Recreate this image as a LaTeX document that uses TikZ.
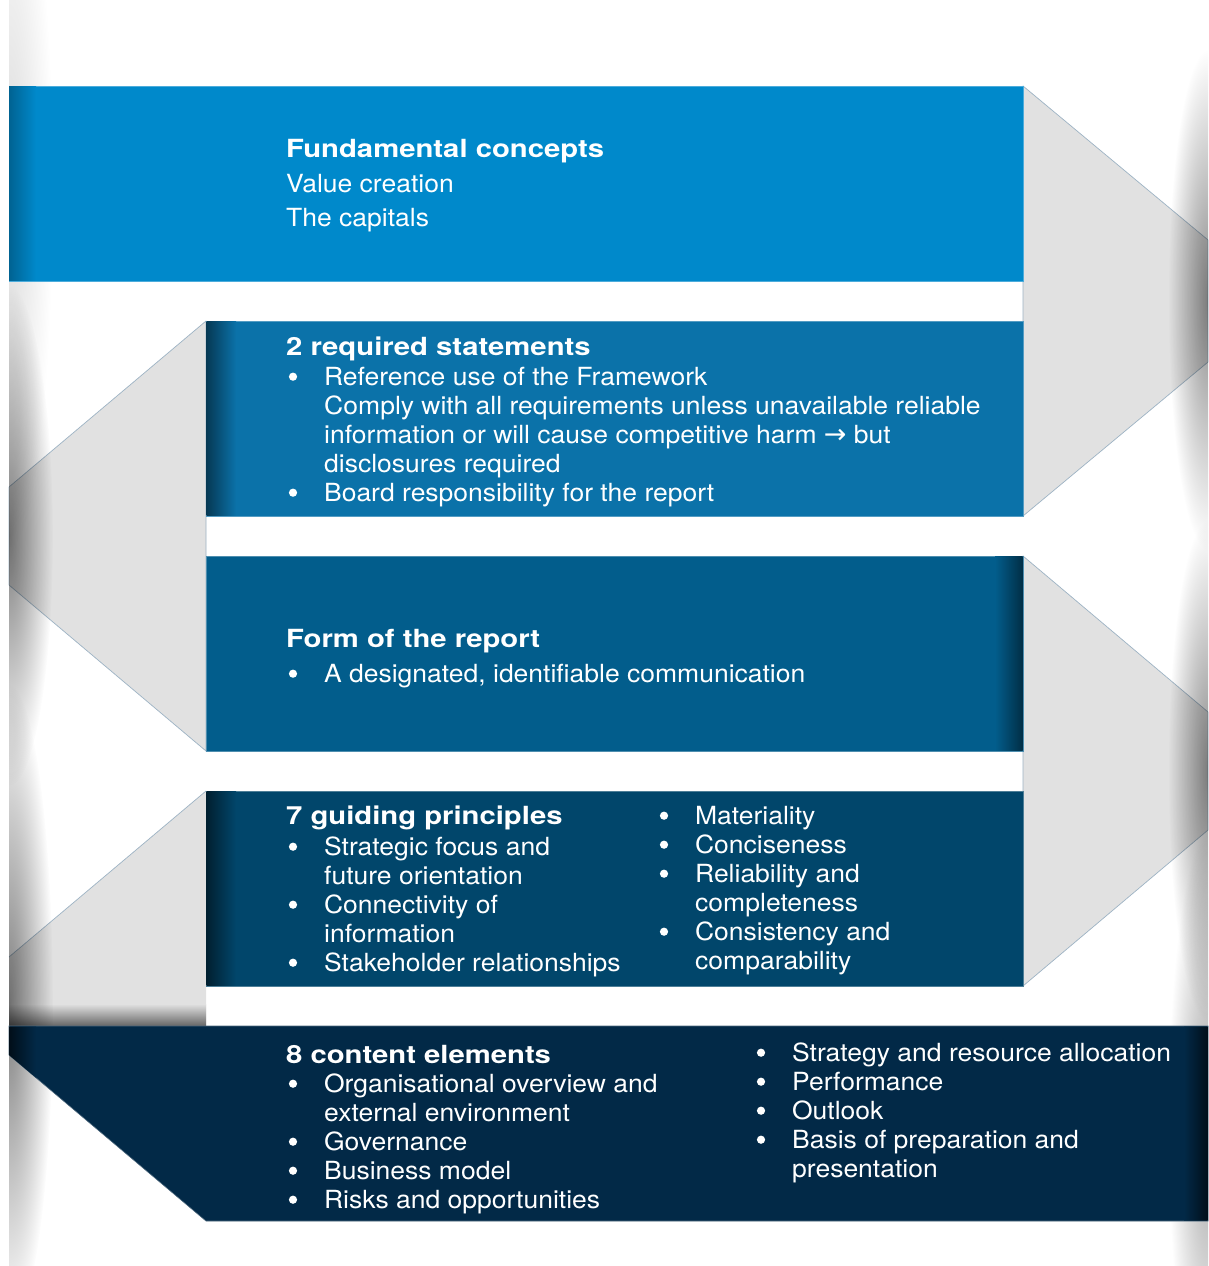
\documentclass[tikz,border=0pt]{standalone}
\usepackage{fontspec}
\setmainfont{TeX Gyre Heros}[FakeStretch=1.06]
\newfontfamily\ttlfont{TeX Gyre Heros}[FakeStretch=1.17]
\newfontfamily\arrfont{DejaVu Sans}
\usetikzlibrary{fadings}
\definecolor{bandA}{HTML}{0089CB}
\definecolor{bandB}{HTML}{0B72A9}
\definecolor{bandC}{HTML}{025D8C}
\definecolor{bandD}{HTML}{01466B}
\definecolor{bandE}{HTML}{022947}
\definecolor{foldgray}{HTML}{E1E1E1}
\definecolor{foldedge}{HTML}{9DB3C4}
\tikzfading[name=lensfade, inner color=transparent!0, outer color=transparent!100]
\newcommand\bulx{\hspace*{35.5pt}}
\newcommand\arr{{\arrfont\fontsize{27}{27}\selectfont →}}
\begin{document}
\begin{tikzpicture}[x=1pt,y=-1pt,
  body/.style={anchor=base west, inner sep=0pt, text=white, font=\fontsize{25}{30}\selectfont},
  ttl/.style={anchor=base west, inner sep=0pt, text=white, font=\ttlfont\bfseries\fontsize{25}{30}\selectfont},
  fold/.style={fill=foldgray, draw=foldedge, line width=0.7pt, line join=round},
  lens/.style={fill=black, path fading=lensfade}]
\useasboundingbox[fill=white] (0,0) rectangle (1208,1266);

% grey folds
\path[fold] (1023,86) -- (1208,240) -- (1208,362) -- (1023,516) -- cycle;
\path[fold] (206,321) -- (9,487) -- (9,585) -- (206,751) -- cycle;
\path[fold] (1023,556) -- (1208,712) -- (1208,830) -- (1023,986) -- cycle;
\path[fill=foldgray] (206,791) -- (9,957) -- (9,1026) -- (206,1026) -- cycle;
\draw[foldedge, line width=0.7pt] (206,791) -- (9,957);
\shade[top color=foldgray, bottom color=black!60] (9,1004) rectangle (206,1026);

% page shadows
\begin{scope}
\clip (9,0) rectangle (1208,1266);
\path[lens, opacity=0.14] (9,190) ellipse [x radius=44, y radius=360];
\path[lens, opacity=0.5] (9,536) ellipse [x radius=44, y radius=250];
\path[lens, opacity=0.5] (9,1005) ellipse [x radius=44, y radius=320];
\path[lens, opacity=0.45] (1208,300) ellipse [x radius=40, y radius=250];
\path[lens, opacity=0.45] (1208,771) ellipse [x radius=40, y radius=250];
\path[lens, opacity=0.35] (1208,1125) ellipse [x radius=40, y radius=290];
\end{scope}

% bands
\path[fill=bandA, draw=bandA!70!white, line width=0.6pt] (9,86) rectangle (1023,281);
\path[fill=bandB, draw=bandB!70!white, line width=0.6pt] (206,321) rectangle (1023,516);
\path[fill=bandC, draw=bandC!70!white, line width=0.6pt] (206,556) rectangle (1023,751);
\path[fill=bandD, draw=bandD!70!white, line width=0.6pt] (206,791) rectangle (1023,986);
\path[fill=bandE, draw=bandE!70!white, line width=0.6pt] (9,1026) -- (1208,1026) -- (1208,1221) -- (206,1221) -- (9,1055) -- cycle;

% inner edge shading
\shade[left color=bandA!72!black, right color=bandA] (9,86.5) rectangle (36,280.5);
\shade[left color=bandB!50!black, right color=bandB] (206.5,321.5) rectangle (236,515.5);
\shade[left color=bandC, right color=bandC!50!black] (995,556.5) rectangle (1022.5,750.5);
\shade[left color=bandD!45!black, right color=bandD] (206.5,791.5) rectangle (236,985.5);
\begin{scope}
\clip (9,1026.5) -- (1207.5,1026.5) -- (1207.5,1220.5) -- (206,1220.5) -- (9,1055) -- cycle;
\shade[left color=bandE!35!black, right color=bandE] (9,1026) rectangle (36,1221);
\shade[left color=bandE, right color=bandE!35!black] (1184,1026) rectangle (1208,1221);
\end{scope}

% band 1
\node[ttl]  (t1)  at (286,157) {Fundamental concepts};
\node[body] (t1a) at (286,192) {Value creation};
\node[body] (t1b) at (286,226) {The capitals};

% band 2
\node[ttl]  (t2)  at (286,355) {2 required statements};
\node[body] (t2a) at (288.4,385) {\bulx Reference use of the Framework};
\node[body] (t2b) at (324,414) {Comply with all requirements unless unavailable reliable};
\node[body] (t2c) at (324,443) {information or will cause competitive harm \arr{} but};
\node[body] (t2d) at (324,472) {disclosures required};
\node[body] (t2e) at (288.4,501) {\bulx Board responsibility for the report};

% band 3
\node[ttl]  (t3)  at (286,647) {Form of the report};
\node[body] (t3a) at (288.4,682) {\bulx A designated, identifiable communication};

% band 4
\node[ttl]  (t4)  at (286,824) {7 guiding principles};
\node[body] (t4a) at (288.4,855) {\bulx Strategic focus and};
\node[body] (t4b) at (324,884) {future orientation};
\node[body] (t4c) at (288.4,913) {\bulx Connectivity of};
\node[body] (t4d) at (324,942) {information};
\node[body] (t4e) at (288.4,971) {\bulx Stakeholder relationships};
\node[body] (t4f) at (659.4,824) {\bulx Materiality};
\node[body] (t4g) at (659.4,853) {\bulx Conciseness};
\node[body] (t4h) at (659.4,882) {\bulx Reliability and};
\node[body] (t4i) at (695,911) {completeness};
\node[body] (t4j) at (659.4,940) {\bulx Consistency and};
\node[body] (t4k) at (695,969) {comparability};

% band 5
\node[ttl]  (t5)  at (286,1063) {8 content elements};
\node[body] (t5a) at (288.4,1092) {\bulx Organisational overview and};
\node[body] (t5b) at (324,1121) {external environment};
\node[body] (t5c) at (288.4,1150) {\bulx Governance};
\node[body] (t5d) at (288.4,1179) {\bulx Business model};
\node[body] (t5e) at (288.4,1208) {\bulx Risks and opportunities};
\node[body] (t5f) at (756.4,1061) {\bulx Strategy and resource allocation};
\node[body] (t5g) at (756.4,1090) {\bulx Performance};
\node[body] (t5h) at (756.4,1119) {\bulx Outlook};
\node[body] (t5i) at (756.4,1148) {\bulx Basis of preparation and};
\node[body] (t5j) at (792,1177) {presentation};

% bullets
\foreach \n in {t2a,t2e,t3a,t4a,t4c,t4e,t4f,t4g,t4h,t4j,t5a,t5c,t5d,t5e,t5f,t5g,t5h,t5i}
  \fill[white] ([xshift=4.6pt,yshift=8.3pt]\n.base west) circle (4.1pt);
\end{tikzpicture}
\end{document}
